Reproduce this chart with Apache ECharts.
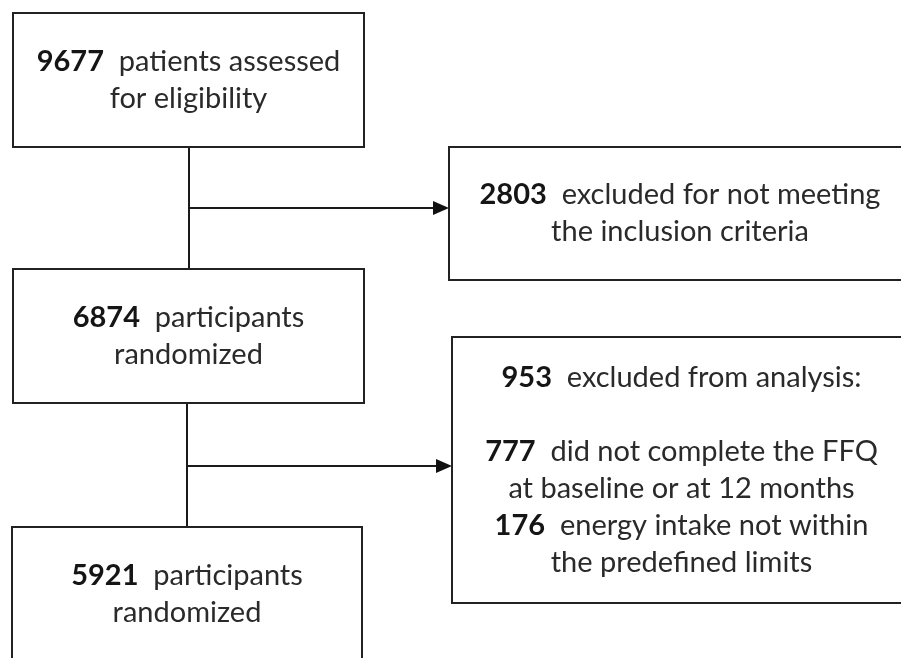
<!DOCTYPE html>
<html>
<head>
<meta charset="utf-8">
<script src="https://cdn.jsdelivr.net/npm/echarts@6/dist/echarts.min.js"></script>
<style>
  html, body { margin: 0; padding: 0; background: #fff; }
  #chart { width: 901px; height: 658px; }
</style>
</head>
<body>
<div id="chart"></div>
<script>
// flow counts and the text that follows each count
var counts = [9677, 6874, 5921, 2803, 953];
var captions = [
  'patients assessed\nfor eligibility',
  'participants\nrandomized',
  'participants\nrandomized',
  'excluded for not meeting\nthe inclusion criteria',
  'excluded from analysis:'
];
// breakdown of the 953 excluded
var subCounts = [777, 176];
var subCaptions = [
  'did not complete the FFQ\nat baseline or at 12 months',
  'energy intake not within\nthe predefined limits'
];

// layout (pixel units on hidden axes): x0, y0, x1, y1
var boxLayout = [
  [13, 13, 364, 147],
  [13, 269, 364, 403],
  [12, 527, 362, 661],
  [449, 147, 911, 280],
  [452, 337, 911, 603]
];
// connectors: x0, y0, x1, y1, arrow head (1/0)
var linkLayout = [
  [189, 147, 189, 269, 0],
  [189, 208, 449, 208, 1],
  [187, 403, 187, 527, 0],
  [187, 466, 452, 466, 1]
];

var FONT = 'Lato';
var textColor = '#2a2a2a';

function boxText(i) {
  var lines = captions[i].split('\n');
  var s = '{b|' + counts[i] + '}  ' + lines[0];
  for (var k = 1; k < lines.length; k++) s += '\n' + lines[k];
  if (i === 4) {
    s += '\n ';
    for (var j = 0; j < subCounts.length; j++) {
      var sl = subCaptions[j].split('\n');
      s += '\n{b|' + subCounts[j] + '}  ' + sl[0];
      for (var m = 1; m < sl.length; m++) s += '\n' + sl[m];
    }
  }
  return s;
}

var chart = echarts.init(document.getElementById('chart'));
chart.setOption({
  animation: false,
  grid: { left: 0, right: 0, top: 0, bottom: 0 },
  xAxis: { type: 'value', min: 0, max: 901, show: false },
  yAxis: { type: 'value', min: 0, max: 658, inverse: true, show: false },
  series: [
    {
      type: 'custom',
      data: linkLayout,
      renderItem: function (params, api) {
        var a = api.coord([api.value(0), api.value(1)]);
        var b = api.coord([api.value(2), api.value(3)]);
        var children = [{
          type: 'line',
          shape: { x1: a[0], y1: a[1], x2: b[0] - (api.value(4) ? 6 : 0), y2: b[1] },
          style: { stroke: '#1a1a1a', lineWidth: 2 }
        }];
        if (api.value(4)) {
          children.push({
            type: 'polygon',
            shape: { points: [[b[0], b[1]], [b[0] - 16, b[1] - 7], [b[0] - 16, b[1] + 7]] },
            style: { fill: '#111' }
          });
        }
        return { type: 'group', children: children };
      }
    },
    {
      type: 'custom',
      data: boxLayout,
      renderItem: function (params, api) {
        var i = params.dataIndex;
        var p0 = api.coord([api.value(0), api.value(1)]);
        var p1 = api.coord([api.value(2), api.value(3)]);
        return {
          type: 'group',
          children: [
            {
              type: 'rect',
              shape: { x: p0[0], y: p0[1], width: p1[0] - p0[0], height: p1[1] - p0[1] },
              style: { fill: '#fff', stroke: '#222', lineWidth: 2 }
            },
            {
              type: 'text',
              x: (p0[0] + p1[0]) / 2,
              y: (p0[1] + p1[1]) / 2,
              style: {
                text: boxText(i),
                align: 'center',
                verticalAlign: 'middle',
                fontFamily: FONT,
                fontSize: 29,
                lineHeight: 37,
                fill: textColor,
                rich: {
                  b: { fontFamily: FONT, fontSize: 29, fontWeight: 'bold', lineHeight: 37, fill: '#151515' }
                }
              }
            }
          ]
        };
      }
    }
  ]
});
</script>
</body>
</html>
